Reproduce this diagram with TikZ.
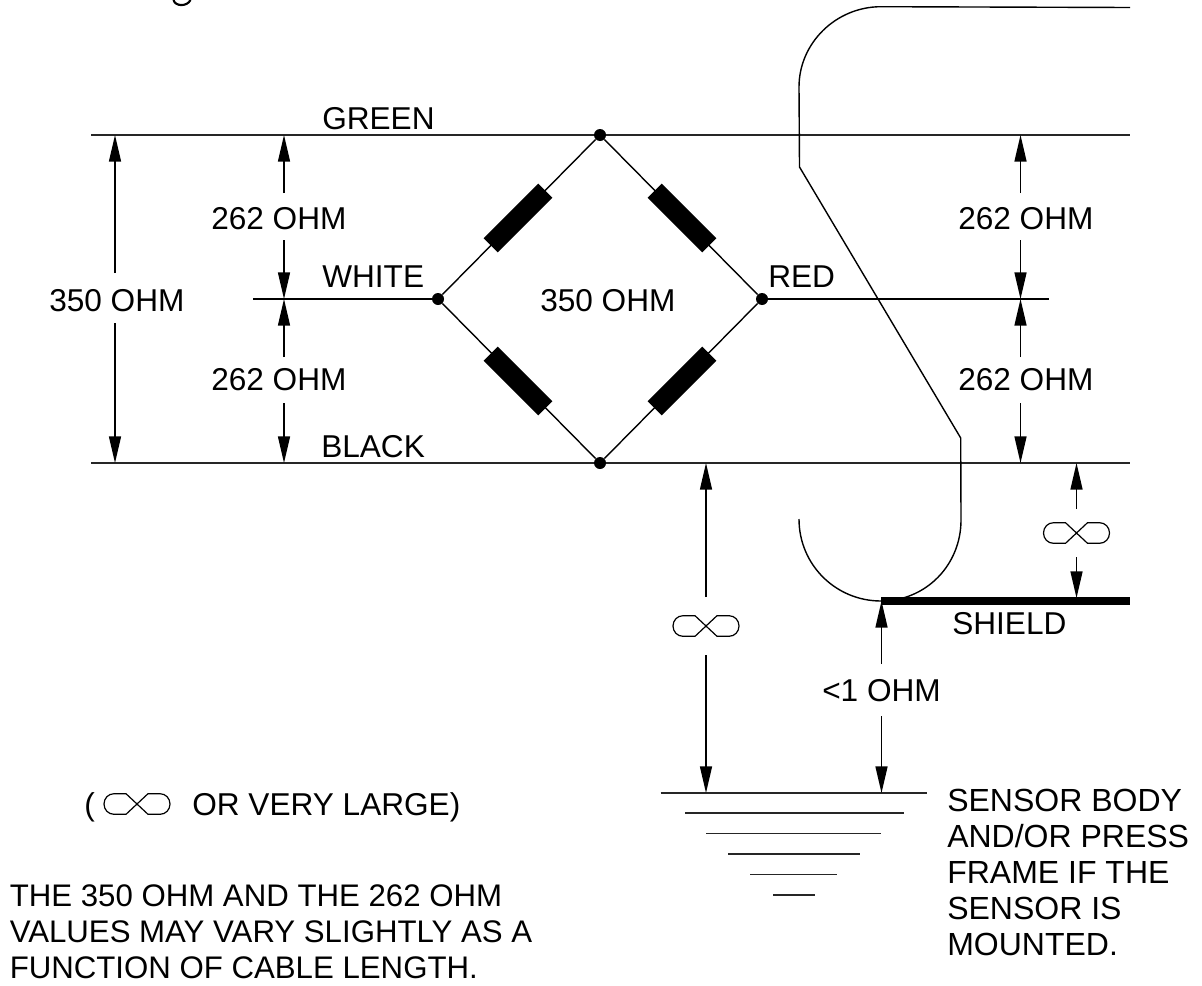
\documentclass[tikz,border=0pt]{standalone}
\usepackage{fontspec}
\setmainfont{Liberation Sans}
\usetikzlibrary{arrows.meta}
\tikzset{
  x=0.75pt,y=-0.75pt,
  wire/.style={line width=1.25pt,draw=black!85},
  thinwire/.style={line width=1.05pt,draw=black},
  dimline/.style={line width=1.1pt,draw=black,-{Triangle[length=20pt,width=9pt]}},
  shieldline/.style={line width=5.5pt,draw=black},
  joint/.style={circle,fill=black,inner sep=0pt,minimum size=9pt},
  resistor/.style={rectangle,fill=black,inner sep=0pt,minimum width=58pt,minimum height=15pt},
  lab/.style={font=\fontsize{23.7}{26}\selectfont,inner sep=0pt,anchor=base west},
  para/.style={lab,align=left,font=\fontsize{24}{27}\selectfont},
  note/.style={lab,align=left,font=\fontsize{23.4}{27}\selectfont},
  pics/infsym/.style={code={
    \draw[line width=0.9pt] (0,0) -- (11,-10.3) -- (23,-10.3)
      .. controls (28.7,-10.3) and (33,-5.7) .. (33,0)
      .. controls (33,5.7) and (28.7,10.3) .. (23,10.3)
      -- (11,10.3) -- (0,0) -- (-11,-10.3) -- (-23,-10.3)
      .. controls (-28.7,-10.3) and (-33,-5.7) .. (-33,0)
      .. controls (-33,5.7) and (-28.7,10.3) .. (-23,10.3)
      -- (-11,10.3) -- cycle;
  }},
}
\begin{document}
\begin{tikzpicture}
\useasboundingbox (0,0) rectangle (1202,985);
% clipped descender at top edge
\draw[line width=1.6pt] (173.5,0) .. controls (175,6.5) and (187,7) .. (190.5,0);
% bridge joints
\node[joint] (top) at (600,135) {};
\node[joint] (left) at (438,299) {};
\node[joint] (right) at (762,299) {};
\node[joint] (bot) at (600,463) {};
% wire ends
\coordinate (gl) at (91,135); \coordinate (gr) at (1130,135);
\coordinate (bl) at (91,463); \coordinate (br) at (1130,463);
\coordinate (wl) at (253,299); \coordinate (rr) at (1049,299);
\draw[wire] (gl) -- (top) -- (gr);
\draw[wire] (bl) -- (bot) -- (br);
\draw[thinwire] (wl) -- (left);
\draw[thinwire] (right) -- (rr);
\draw[thinwire] (top) -- (left) -- (bot) -- (right) -- (top);
\node[resistor,rotate=45] (r1) at (518,218) {};
\node[resistor,rotate=-45] (r2) at (682,218) {};
\node[resistor,rotate=-45] (r3) at (518,381) {};
\node[resistor,rotate=45] (r4) at (682,381) {};
% cable outline
\draw[thinwire] (1130,7.5) -- (881,6.7) .. controls (836,6.7) and (799,43) .. (799,87)
  -- (799.5,167) -- (960.7,438) -- (961,520)
  .. controls (961,565) and (926,601) .. (881,601)
  .. controls (836,601) and (799,565) .. (799,519);
% shield
\coordinate (sl) at (881,601); \coordinate (sr) at (1130,601);
\draw[shieldline] (sl) -- (sr);
% ground
\coordinate (g1a) at (660.5,793); \coordinate (g1b) at (926.5,793);
\coordinate (g2a) at (685,813); \coordinate (g2b) at (904,813);
\coordinate (g3a) at (706,833.5); \coordinate (g3b) at (881,833.5);
\coordinate (g4a) at (728,854); \coordinate (g4b) at (859.5,854);
\coordinate (g5a) at (750,874.5); \coordinate (g5b) at (837,874.5);
\coordinate (g6a) at (773,895); \coordinate (g6b) at (815,895);
\draw[wire] (g1a) -- (g1b);
\draw[wire] (g2a) -- (g2b);
\draw[wire] (g3a) -- (g3b);
\draw[wire] (g4a) -- (g4b);
\draw[wire] (g5a) -- (g5b);
\draw[wire] (g6a) -- (g6b);
% dimension arrows
\coordinate (a1) at (115,273); \coordinate (a1t) at (115,135);
\coordinate (a2) at (115,323); \coordinate (a2t) at (115,463);
\draw[dimline] (a1) -- (a1t);
\draw[dimline] (a2) -- (a2t);
\foreach \n/\xx in {l/284,r/1020.5}{
  \coordinate (\n1) at (\xx,193); \coordinate (\n1t) at (\xx,135);
  \coordinate (\n2) at (\xx,240); \coordinate (\n2t) at (\xx,299);
  \coordinate (\n3) at (\xx,357); \coordinate (\n3t) at (\xx,299);
  \coordinate (\n4) at (\xx,403); \coordinate (\n4t) at (\xx,463);
  \draw[dimline] (\n1) -- (\n1t);
  \draw[dimline] (\n2) -- (\n2t);
  \draw[dimline] (\n3) -- (\n3t);
  \draw[dimline] (\n4) -- (\n4t);
}
\coordinate (b1) at (706,597); \coordinate (b1t) at (706,463);
\coordinate (b2) at (706,655); \coordinate (b2t) at (706,793);
\draw[dimline] (b1) -- (b1t);
\draw[dimline] (b2) -- (b2t);
\coordinate (c1) at (1076.5,509); \coordinate (c1t) at (1076.5,463);
\coordinate (c2) at (1076.5,557); \coordinate (c2t) at (1076.5,598);
\draw[dimline] (c1) -- (c1t);
\draw[dimline] (c2) -- (c2t);
\coordinate (d1) at (881.5,664); \coordinate (d1t) at (881.5,601);
\coordinate (d2) at (881.5,716); \coordinate (d2t) at (881.5,793);
\draw[dimline] (d1) -- (d1t);
\draw[dimline] (d2) -- (d2t);
% infinity symbols
\pic at (706,626) {infsym};
\pic at (1076.5,533) {infsym};
\pic at (137,804) {infsym};
% labels
\node[lab] (tgreen) at (322,129) {GREEN};
\node[lab] (twhite) at (322,287) {WHITE};
\node[lab] (tblack) at (321,457) {BLACK};
\node[lab] (tred) at (768,287) {RED};
\node[lab] (t350a) at (49,311.7) {350 OHM};
\node[lab] (t350b) at (540,311.7) {350 OHM};
\node[lab] (t262a) at (211,229) {262 OHM};
\node[lab] (t262b) at (211,390) {262 OHM};
\node[lab] (t262c) at (958,229) {262 OHM};
\node[lab] (t262d) at (958,390) {262 OHM};
\node[lab] (tshield) at (952,634) {SHIELD};
\node[lab] (tlt) at (822,701) {<1 OHM};
\node[lab] (tparen) at (84,815) {(};
\node[lab] (tvery) at (192,815) {OR VERY LARGE)};
\node[para] (tsensor) at (947,955) {SENSOR BODY\\AND/OR PRESS\\FRAME IF THE\\SENSOR IS\\MOUNTED.};
\node[note] (tnote) at (9.5,978) {THE 350 OHM AND THE 262 OHM\\VALUES MAY VARY SLIGHTLY AS A\\FUNCTION OF CABLE LENGTH.};
\end{tikzpicture}
\end{document}
